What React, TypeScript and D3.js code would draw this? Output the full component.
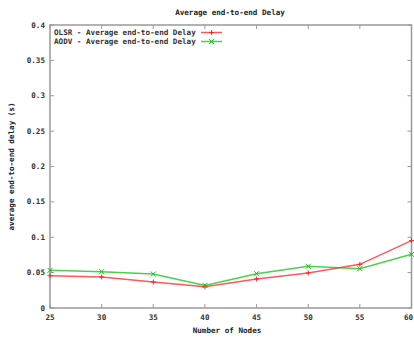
import React from 'react';
import * as d3 from 'd3';

// data
const nodes = [25, 30, 35, 40, 45, 50, 55, 60];
const olsrDelay = [0.0457, 0.0438, 0.0367, 0.0301, 0.041, 0.0495, 0.0617, 0.0952];
const aodvDelay = [0.0532, 0.0513, 0.048, 0.032, 0.0485, 0.0589, 0.0556, 0.0759];
const yTicks = [0, 0.05, 0.1, 0.15, 0.2, 0.25, 0.3, 0.35, 0.4];
const yTickLabels = ['0', '0.05', '0.1', '0.15', '0.2', '0.25', '0.3', '0.35', '0.4'];

const width = 414;
const height = 339;
const left = 50;
const right = 411.5;
const top = 25;
const bottom = 308;
const font = "'DejaVu Sans Mono', monospace";

const App = () => {
  const x = d3.scaleLinear().domain([25, 60]).range([left, right]);
  const y = d3.scaleLinear().domain([0, 0.4]).range([bottom, top]);

  const line = d3.line<number>()
    .x((d, i) => x(nodes[i]))
    .y(d => y(d));

  const series = [
    { name: 'OLSR - Average end-to-end Delay', values: olsrDelay, color: '#ff2020', mark: 'plus' },
    { name: 'AODV - Average end-to-end Delay', values: aodvDelay, color: '#10c010', mark: 'cross' },
  ];

  const marker = (mark: string, cx: number, cy: number, color: string, key: string) => {
    const s = 2.5;
    const d = mark === 'plus'
      ? `M${cx - s},${cy}H${cx + s}M${cx},${cy - s}V${cy + s}`
      : `M${cx - s},${cy - s}L${cx + s},${cy + s}M${cx - s},${cy + s}L${cx + s},${cy - s}`;
    return <path key={key} d={d} stroke={color} strokeWidth={1} fill="none" />;
  };

  return (
    <svg width={width} height={height} style={{ position: 'absolute', left: 0, top: 0, background: '#fff' }}
      fontFamily={font} fontSize={7.6} fontWeight="bold">
      {/* title */}
      <text x={230} y={15} textAnchor="middle" fill="#222">Average end-to-end Delay</text>

      {/* frame */}
      <rect x={left} y={top} width={right - left} height={bottom - top} fill="none" stroke="#999" strokeWidth={1.5} />

      {/* y ticks */}
      {yTicks.map((t, i) => (
        <g key={'y' + i}>
          <line x1={left} x2={left + 4} y1={y(t)} y2={y(t)} stroke="#999" />
          <line x1={right - 4} x2={right} y1={y(t)} y2={y(t)} stroke="#999" />
          <text x={45} y={y(t) + 2.5} textAnchor="end" fill="#333">{yTickLabels[i]}</text>
        </g>
      ))}

      {/* x ticks */}
      {nodes.map(n => (
        <g key={'x' + n}>
          <line x1={x(n)} x2={x(n)} y1={bottom} y2={bottom - 4} stroke="#999" />
          <line x1={x(n)} x2={x(n)} y1={top} y2={top + 4} stroke="#999" />
          <text x={Math.min(x(n), 408.5)} y={320} textAnchor="middle" fill="#333">{n}</text>
        </g>
      ))}

      {/* axis labels */}
      <text x={227} y={333} textAnchor="middle" fill="#222">Number of Nodes</text>
      <text transform={`translate(14,${(top + bottom) / 2}) rotate(-90)`} textAnchor="middle" fill="#222">
        average end-to-end delay (s)
      </text>

      {/* series */}
      {series.map((s, si) => (
        <g key={s.name}>
          <path d={line(s.values) || ''} fill="none" stroke={s.color} strokeWidth={1.5} strokeOpacity={0.75} />
          {s.values.map((v, i) => marker(s.mark, x(nodes[i]), y(v), s.color, s.name + i))}
          <text x={54} y={35 + si * 9} fill="#333">{s.name}</text>
          <line x1={201} x2={222} y1={32.5 + si * 9} y2={32.5 + si * 9} stroke={s.color} strokeWidth={1.5} strokeOpacity={0.75} />
          {marker(s.mark, 211.5, 32.5 + si * 9, s.color, s.name + 'leg')}
        </g>
      ))}
    </svg>
  );
};

export default App;
